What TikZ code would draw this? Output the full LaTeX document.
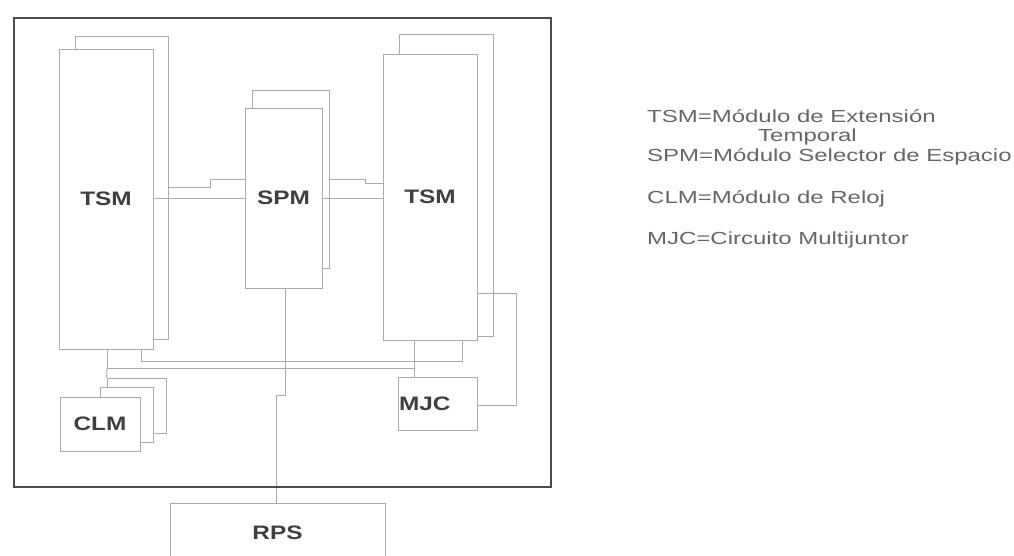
\documentclass[tikz,border=0pt]{standalone}
\usepackage{fontspec}
\setmainfont{Liberation Sans}
\newfontfamily\legendfont[FakeStretch=1.37]{Liberation Sans}
\newfontfamily\labelfont[FakeStretch=1.25]{Liberation Sans}
\begin{document}
\begin{tikzpicture}[x=1pt,y=-1pt,
  line/.style={draw=black!33, line width=0.9pt},
  backbox/.style={draw=black!33, fill=white, line width=0.9pt, rectangle, inner sep=0pt},
  box/.style={draw=black!33, fill=white, line width=0.9pt, rectangle, inner sep=0pt,
    font=\labelfont\fontsize{19.5}{19.5}\selectfont\bfseries, text=black!75},
  legend/.style={anchor=west, inner sep=0pt, font=\legendfont\fontsize{17.5}{17.5}\selectfont, text=black!60},
]
\useasboundingbox (0,0) rectangle (1014,555);

% back (stacked) boxes
\node[backbox, minimum width=93, minimum height=303] (tsmLb) at (121.5,187.5) {};
\node[backbox, minimum width=77, minimum height=178] (spmb) at (290.5,179) {};
\node[backbox, minimum width=94, minimum height=302] (tsmRb) at (446,185) {};
\node[backbox, minimum width=59, minimum height=55] (clmb3) at (136.5,405.5) {};
\node[backbox, minimum width=53, minimum height=55] (clmb2) at (126.5,414.5) {};

% front boxes
\node[box, minimum width=94, minimum height=300] (tsmL) at (106,199) {TSM};
\node[box, minimum width=77, minimum height=180] (spm) at (283.5,198) {SPM};
\node[box, minimum width=94, minimum height=286] (tsmR) at (430,197) {TSM};
\node[box, minimum width=80, minimum height=54] (clm) at (100,424) {CLM};
\node[box, minimum width=79, minimum height=53, text width=77, align=left, inner xsep=1pt] (mjc) at (437.5,403.5) {MJC};
\node[box, minimum width=215, minimum height=60] (rps) at (277.5,533) {RPS};

% connectors
\draw[line] (tsmLb.east |- 0,187) -- (210,187) -- (210,179) -- (spm.west |- 0,179);
\draw[line] (tsmL.east |- 0,198) -- (spm.west |- 0,198);
\draw[line] (spmb.east |- 0,179) -- (365,179) -- (365,183) -- (tsmR.west |- 0,183);
\draw[line] (spm.east |- 0,198) -- (tsmR.west |- 0,198);
\draw[line] (tsmL.south -| 141,0) -- (141,361) -- (462,361) -- (tsmR.south -| 462,0);
\draw[line] (tsmL.south -| 107,0) -- (107,368) -- (414,368);
\draw[line] (tsmR.south -| 414,0) -- (mjc.north -| 414,0);
\draw[line] (107,368) -- (clmb3.north west);
\draw[line] (mjc.east |- 0,405) -- (516,405) -- (516,293) -- (tsmR.east |- 0,293);
\draw[line] (spm.south -| 285,0) -- (285,395) -- (276,395) -- (rps.north -| 276,0);

% outer frame
\node[draw=black!70, line width=2pt, rectangle, inner sep=0pt, minimum width=537, minimum height=469] (frame) at (282.5,252.5) {};

% legend
\node[legend] (l1) at (647,116) {TSM=Módulo de Extensión};
\node[legend] (l2) at (758,137) {Temporal};
\node[legend] (l3) at (647,157) {SPM=Módulo Selector de Espacio};
\node[legend] (l4) at (647,199) {CLM=Módulo de Reloj};
\node[legend] (l5) at (647,240) {MJC=Circuito Multijuntor};
\end{tikzpicture}
\end{document}
